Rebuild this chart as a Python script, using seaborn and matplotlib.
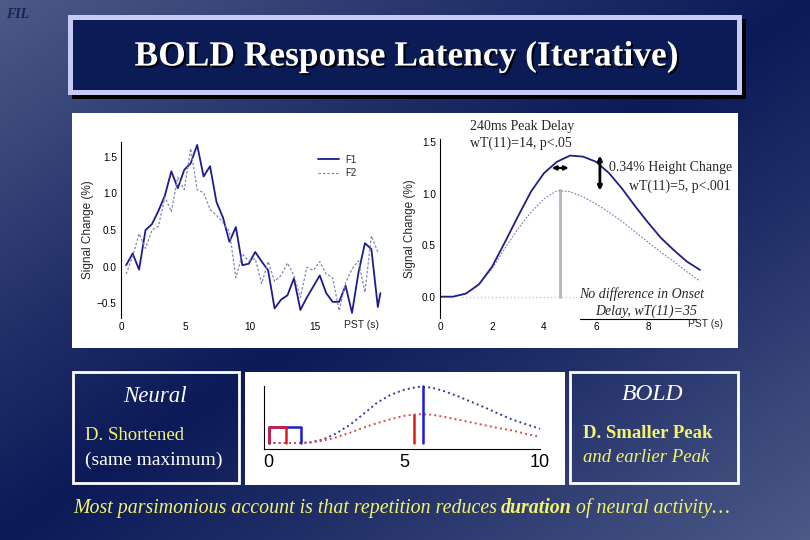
"""
BOLD response latency slide: raw time courses, fitted responses and a
neural/BOLD model sketch, drawn on a gradient slide background.
"""

import numpy as np
import matplotlib
matplotlib.use('Agg')
import matplotlib.pyplot as plt
import matplotlib.patheffects as pe
import seaborn as sns
from matplotlib.patches import Rectangle

sns.set_style('white')
plt.rcParams['font.family'] = ['Liberation Sans', 'DejaVu Sans']

W, H = 810, 540
SERIF = ['Liberation Serif', 'DejaVu Serif']

# raw peristimulus time courses (left panel)
pst_raw = [0.4, 0.9, 1.4, 1.9, 2.4, 2.9, 3.4, 3.9, 4.4, 4.9, 5.4, 5.9, 6.4, 6.9,
           7.4, 7.9, 8.4, 8.9, 9.4, 9.9, 10.4, 10.9, 11.4, 11.9, 12.4, 12.9,
           13.4, 13.9, 14.4, 14.9, 15.4, 15.9, 16.4, 16.9, 17.4, 17.9, 18.4,
           18.9, 19.4, 19.9, 20.1]
f1_raw = [0.02, 0.18, -0.04, 0.50, 0.58, 0.76, 0.97, 1.30, 1.07, 1.32, 1.41,
          1.66, 1.23, 1.37, 0.88, 0.67, 0.34, 0.54, 0.02, 0.04, 0.20, 0.07,
          -0.05, -0.57, -0.45, -0.39, -0.16, -0.59, -0.42, -0.27, -0.12, -0.36,
          -0.48, -0.48, -0.26, -0.63, -0.08, 0.32, 0.24, -0.55, -0.36]
pst_raw2 = [0.4, 0.9, 1.4, 1.9, 2.4, 2.9, 3.4, 3.9, 4.4, 4.9, 5.4, 5.9, 6.4,
            6.9, 7.4, 7.9, 8.4, 8.9, 9.4, 9.9, 10.4, 10.9, 11.4, 11.9, 12.4,
            12.9, 13.4, 13.9, 14.4, 14.9, 15.4, 15.9, 16.4, 16.9, 17.4, 17.9,
            18.4, 18.9, 19.4, 19.9]
f2_raw = [-0.10, 0.14, 0.45, 0.25, 0.50, 0.55, 0.95, 0.75, 1.22, 1.05, 1.61,
          1.05, 1.01, 0.78, 0.70, 0.60, 0.48, -0.15, 0.17, 0.08, 0.11, -0.23,
          0.07, -0.20, -0.12, 0.05, -0.12, -0.42, -0.01, -0.05, 0.07, -0.10,
          -0.15, -0.60, -0.22, -0.03, 0.08, -0.35, 0.42, 0.20]

# fitted responses (right panel)
pst_fit = [0, 0.5, 1.0, 1.5, 2.0, 2.5, 3.0, 3.5, 4.0, 4.5, 5.0, 5.5, 6.0, 6.5,
           7.0, 7.5, 8.0, 8.5, 9.0, 9.5, 10.0]
f1_fit = [0, 0.0, 0.03, 0.12, 0.29, 0.53, 0.78, 1.02, 1.20, 1.31, 1.37, 1.36,
          1.31, 1.20, 1.05, 0.88, 0.72, 0.57, 0.45, 0.34, 0.26]
f2_fit = [0, 0.0, 0.03, 0.12, 0.27, 0.47, 0.66, 0.82, 0.95, 1.03, 1.02, 0.97,
          0.90, 0.82, 0.73, 0.63, 0.53, 0.43, 0.34, 0.24, 0.15]
f2_peak_t, f2_peak = 4.62, 1.04
delay_arrow = [4.3, 4.95]
delay_arrow_y = 1.25
height_arrow_x = 6.15
height_arrow = [1.03, 1.37]

# model sketch (bottom panel)
model_t = [0, 1.0, 1.5, 2.0, 2.5, 3.0, 3.5, 4.0, 4.5, 5.0, 5.5, 6.0, 6.5, 7.0,
           7.5, 8.0, 8.5, 9.0, 9.5, 10.0]
bold_long = [0, 0, 0.01, 0.06, 0.17, 0.32, 0.51, 0.71, 0.85, 0.94, 0.99, 0.98,
             0.91, 0.82, 0.72, 0.62, 0.51, 0.41, 0.33, 0.25]
bold_short = [0, 0, 0.005, 0.04, 0.10, 0.18, 0.27, 0.35, 0.42, 0.48, 0.51, 0.50,
              0.46, 0.41, 0.36, 0.31, 0.26, 0.22, 0.16, 0.11]
neural_long = [0.04, 1.2]
neural_short = [0.04, 0.65]
neural_height = 0.29
peak_long = (5.68, 1.0)
peak_short = (5.37, 0.5)


def fx(px):
    return px / W


def fy(py):
    return 1 - py / H


def add_rect(fig, x0, y0, x1, y1, **kw):
    fig.add_artist(Rectangle((fx(x0), fy(y1)), (x1 - x0) / W, (y1 - y0) / H,
                             transform=fig.transFigure, **kw))


def ftext(fig, px, py, s, **kw):
    kw.setdefault('va', 'center')
    return fig.text(fx(px), fy(py), s, zorder=5, **kw)


fig = plt.figure(figsize=(8.1, 5.4), dpi=100)

# gradient background
bg = fig.add_axes([0, 0, 1, 1], zorder=-5)
gx, gy = np.meshgrid(np.linspace(0, 1, 300), np.linspace(0, 1, 200))
t = np.clip(np.abs(gx + gy - 1), 0, 1) ** 1.1
dark = np.array([12, 26, 88]) / 255
light = np.array([76, 90, 136]) / 255
img = dark[None, None, :] + (light - dark)[None, None, :] * t[..., None]
bg.imshow(img, extent=[0, 1, 0, 1], aspect='auto', origin='upper')
bg.axis('off')

# slide furniture
ftext(fig, 6, 14, 'FIL', family=SERIF, style='italic', weight='bold',
      fontsize=10, color='#1a2250')
add_rect(fig, 72, 19, 746, 99, facecolor='black', lw=0, zorder=0.5)
add_rect(fig, 68, 15, 742, 95, facecolor='#c6cbf6', lw=0, zorder=0.6)
add_rect(fig, 73, 20, 737, 90, facecolor='#0b1b56', lw=0, zorder=0.7)
title = ftext(fig, 407, 57, 'BOLD Response Latency (Iterative)', family=SERIF,
              weight='bold', fontsize=25.5, color='white', ha='center')
title.set_path_effects([pe.withSimplePatchShadow(offset=(1.5, -1.5),
                                                 shadow_rgbFace='black',
                                                 alpha=0.9)])

add_rect(fig, 72, 113, 738, 348, facecolor='white', lw=0, zorder=0.6)
add_rect(fig, 245, 372, 565, 485, facecolor='white', lw=0, zorder=0.6)
add_rect(fig, 73, 372, 239, 483, facecolor='none', edgecolor='white', lw=2,
         zorder=0.6)
add_rect(fig, 570, 372, 738, 483, facecolor='none', edgecolor='white', lw=2,
         zorder=0.6)

# left panel: raw time courses
ax1 = fig.add_axes([fx(121), fy(318), (383 - 121) / W, (318 - 142) / H], zorder=2)
ax1.patch.set_alpha(0)
sns.lineplot(x=pst_raw, y=f1_raw, ax=ax1, color='#1c1c8c', lw=1.3, label='F1',
             sort=False)
sns.lineplot(x=pst_raw2, y=f2_raw, ax=ax1, color='#8585b5', lw=0.9,
             linestyle=(0, (2, 1.5)), label='F2', sort=False)
ax1.set_xlim(0, 20.3)
ax1.set_ylim(-0.70, 1.70)
ax1.set_xticks([0, 5, 10, 15])
ax1.set_yticks([-0.5, 0, 0.5, 1.0, 1.5])
ax1.set_yticklabels(['\u22120.5', '0.0', '0.5', '1.0', '1.5'])
ax1.set_ylabel('Signal Change (%)', fontsize=8.5, labelpad=2)
ax1.legend(loc='upper left', bbox_to_anchor=(fx(313), fy(150)),
           bbox_transform=fig.transFigure, frameon=False, fontsize=7,
           handlelength=2.2, labelspacing=0.35, borderpad=0, handletextpad=0.6)
ftext(fig, 362, 325, 'PST (s)', fontsize=7.5, ha='center')

# right panel: fitted responses
ax2 = fig.add_axes([fx(440), fy(318.3), 266.5 / W, (318.3 - 139.1) / H], zorder=2)
ax2.patch.set_alpha(0)
ax2.plot([0.84, 5.28], [0, 0], color='#c8c8c8', lw=1, linestyle=':')
ax2.plot([f2_peak_t, f2_peak_t], [0, f2_peak], color='#b4b4b4', lw=2)
sns.lineplot(x=pst_fit, y=f2_fit, ax=ax2, color='#7a7ab0', lw=0.8,
             linestyle=(0, (1.5, 1.5)), sort=False)
sns.lineplot(x=pst_fit, y=f1_fit, ax=ax2, color='#1e1e86', lw=1.3, sort=False)
ax2.annotate('', xy=(delay_arrow[0], delay_arrow_y),
             xytext=(delay_arrow[1], delay_arrow_y),
             arrowprops=dict(arrowstyle='<|-|>', color='black', lw=1.6,
                             mutation_scale=6, shrinkA=0, shrinkB=0))
ax2.annotate('', xy=(height_arrow_x, height_arrow[0]),
             xytext=(height_arrow_x, height_arrow[1]),
             arrowprops=dict(arrowstyle='<|-|>', color='black', lw=2,
                             mutation_scale=6, shrinkA=0, shrinkB=0))
ax2.set_xlim(0, 10.25)
ax2.set_ylim(-0.21, 1.53)
ax2.set_xticks([0, 2, 4, 6, 8])
ax2.set_yticks([0, 0.5, 1.0, 1.5])
ax2.set_yticklabels(['0.0', '0.5', '1.0', '1.5'])
ax2.set_ylabel('Signal Change (%)', fontsize=8.5, labelpad=4)
ftext(fig, 705, 324, 'PST (s)', fontsize=7.5, ha='center')

for ax in (ax1, ax2):
    sns.despine(ax=ax, top=True, right=True, bottom=True)
    ax.spines['left'].set_color('black')
    ax.spines['left'].set_linewidth(0.8)
    ax.tick_params(labelsize=7.2, length=2, width=0.6, direction='in', pad=3,
                   colors='black')

ftext(fig, 470, 126, '240ms Peak Delay', family=SERIF, fontsize=10)
ftext(fig, 470, 143, 'wT(11)=14, p<.05', family=SERIF, fontsize=10)
ftext(fig, 732, 168, '0.34% Height Change', family=SERIF, fontsize=10,
      ha='right')
ftext(fig, 731, 186, 'wT(11)=5, p<.001', family=SERIF, fontsize=10,
      ha='right')
ftext(fig, 704, 294, 'No difference in Onset', family=SERIF, style='italic',
      fontsize=10, ha='right')
ftext(fig, 697, 311, 'Delay, wT(11)=35', family=SERIF, style='italic',
      fontsize=10, ha='right')
fig.add_artist(plt.Line2D([fx(580), fx(696)], [fy(318.5), fy(318.5)],
                          color='black', lw=0.8, transform=fig.transFigure,
                          zorder=5))

# bottom panel: model sketch
ax3 = fig.add_axes([fx(264), fy(448.7), (540 - 264) / W, (448.7 - 386.3) / H],
                   zorder=2)
ax3.patch.set_alpha(0)
sns.lineplot(x=model_t, y=bold_long, ax=ax3, color='#3a3a9a', lw=1.4,
             linestyle=':', sort=False, clip_on=False)
sns.lineplot(x=model_t, y=bold_short, ax=ax3, color='#e04848', lw=1.4,
             linestyle=':', sort=False, clip_on=False)
ax3.plot([neural_long[0], neural_long[0], neural_long[1], neural_long[1]],
         [0, neural_height, neural_height, 0], color='#1a1ae0', lw=1.8)
ax3.plot([neural_short[0], neural_short[0], neural_short[1], neural_short[1]],
         [0, neural_height, neural_height, 0], color='#e01a1a', lw=1.8)
ax3.plot([peak_long[0], peak_long[0]], [0, peak_long[1]], color='#1a1ae0',
         lw=1.8, clip_on=False)
ax3.plot([peak_short[0], peak_short[0]], [0, peak_short[1]], color='#e01a1a',
         lw=1.8)
ax3.set_xlim(-0.16, 10)
ax3.set_ylim(-0.1, 1.0)
ax3.set_xticks([0, 5, 10])
ax3.set_yticks([])
sns.despine(ax=ax3, top=True, right=True)
for side in ('left', 'bottom'):
    ax3.spines[side].set_color('black')
    ax3.spines[side].set_linewidth(0.8)
ax3.tick_params(axis='x', length=0, labelsize=13, pad=4, colors='black')

# text boxes
ftext(fig, 155, 397, 'Neural', family=SERIF, style='italic', fontsize=16.5,
      color='white', ha='center')
ftext(fig, 85, 436, 'D. Shortened', family=SERIF, fontsize=13.5,
      color='#f4f46a')
ftext(fig, 85, 460, '(same maximum)', family=SERIF, fontsize=14,
      color='white')
ftext(fig, 653, 394, 'BOLD', family=SERIF, style='italic', fontsize=17,
      color='white', ha='center')
ftext(fig, 583, 433, 'D. Smaller Peak', family=SERIF, weight='bold',
      fontsize=13.5, color='#f4f46a')
ftext(fig, 583, 457, 'and earlier Peak', family=SERIF, style='italic',
      fontsize=13.5, color='#f4f46a')

# conclusion line with bold word
renderer = fig.canvas.get_renderer()
parts = [('Most parsimonious account is that repetition reduces', 'normal'),
         ('duration', 'bold'),
         ('of neural activity\u2026', 'normal')]
xpos = 73
for s, w in parts:
    txt = ftext(fig, xpos, 508, s, family=SERIF, style='italic', weight=w,
                fontsize=14.3, color='#f4f46a')
    bb = txt.get_window_extent(renderer=renderer)
    xpos = bb.x1 + 4

fig.savefig('out.png', dpi=100)
